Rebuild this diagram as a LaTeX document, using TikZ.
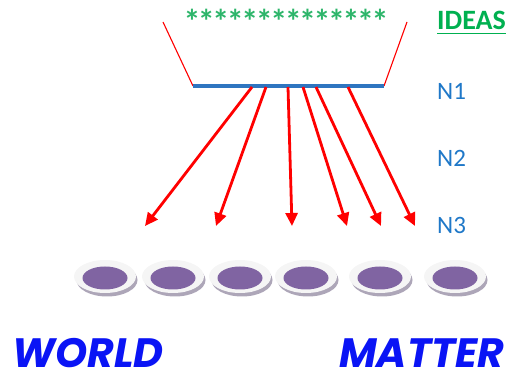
\documentclass[tikz,border=0pt]{standalone}
\usepackage{fontspec}
\setmainfont{Carlito}
\newfontfamily\bigfont{Poppins}
\usetikzlibrary{arrows.meta}
\definecolor{ideagreen}{HTML}{00B050}
\definecolor{stargreen}{HTML}{2DB56A}
\definecolor{nblue}{HTML}{1F78C8}
\definecolor{barblue}{HTML}{2E75C0}
\definecolor{discpurple}{HTML}{8064A2}
\definecolor{discshadow}{HTML}{ADA6B8}
\definecolor{discrim}{HTML}{F5F5F5}
\definecolor{wblue}{HTML}{0A14F5}
\tikzset{
  ray/.style={draw=red, line width=2.8pt, -{Triangle[width=12pt,length=13pt]}},
  side/.style={draw=red, line width=1.1pt},
  bar/.style={draw=barblue, line width=3.2pt},
  lvl/.style={anchor=base west, text=nblue, font=\fontsize{25}{25}\selectfont, inner sep=0pt},
  big/.style={anchor=base west, text=wblue, text depth=0pt, font=\bigfont\bfseries\itshape\fontsize{41}{41}\selectfont, inner sep=0pt},
  star/.style={anchor=base, inner sep=0pt, text=stargreen, font=\bfseries\fontsize{34}{34}\selectfont},
}
\newcommand{\disc}[2]{%
  \fill[discshadow] (#1+2,280) ellipse [x radius=30.5, y radius=16.5];
  \fill[discrim] (#1,276.5) ellipse [x radius=31, y radius=16.5];
  \fill[discpurple] (#1,278) ellipse [x radius=22.5, y radius=11.5];
  \coordinate (#2) at (#1,278);
}
\begin{document}
\begin{tikzpicture}[x=1pt,y=-1pt]
\useasboundingbox (0,0) rectangle (512,382);
% top stars
\foreach \k in {0,...,13} {\node[star] (st\k) at (192+\k*14.46,34) {*};}
% IDEAS
\node[anchor=base west, inner sep=0pt, text=ideagreen, font=\bfseries\fontsize{28}{28}\selectfont] (ideas) at (437,30) {IDEAS};
\draw[ideagreen, line width=1.4pt] (ideas.base west) ++(0,3.5) coordinate (ul1) -- (ideas.base east |- ul1) coordinate (ul2);
% funnel
\coordinate (tl) at (163,22);
\coordinate (bl) at (193,86);
\coordinate (br) at (384,86);
\coordinate (tr) at (407,22);
\draw[side] (tl) -- (bl);
\draw[side] (tr) -- (br);
\draw[bar] (bl) -- (br);
% levels
\node[lvl] (n1) at (437,100) {N1};
\node[lvl] (n2) at (437,167) {N2};
\node[lvl] (n3) at (437,234) {N3};
% arrows
\coordinate (s1) at (252,87);
\coordinate (s2) at (266,87);
\coordinate (s3) at (288,87);
\coordinate (s4) at (303,87);
\coordinate (s5) at (316,87);
\coordinate (s6) at (348,87);
\coordinate (e1) at (145,226);
\coordinate (e2) at (216,226);
\coordinate (e3) at (292,226);
\coordinate (e4) at (347,226);
\coordinate (e5) at (381,226);
\coordinate (e6) at (415,226);
\foreach \i in {1,...,6} {\draw[ray] (s\i) -- (e\i);}
% discs
\disc{105}{d1}
\disc{173}{d2}
\disc{240}{d3}
\disc{306}{d4}
\disc{380}{d5}
\disc{455}{d6}
% bottom words
\node[big] (world) at (12,367.5) {WORLD};
\node[big] (matter) at (339,367.5) {MATTER};
\end{tikzpicture}
\end{document}
